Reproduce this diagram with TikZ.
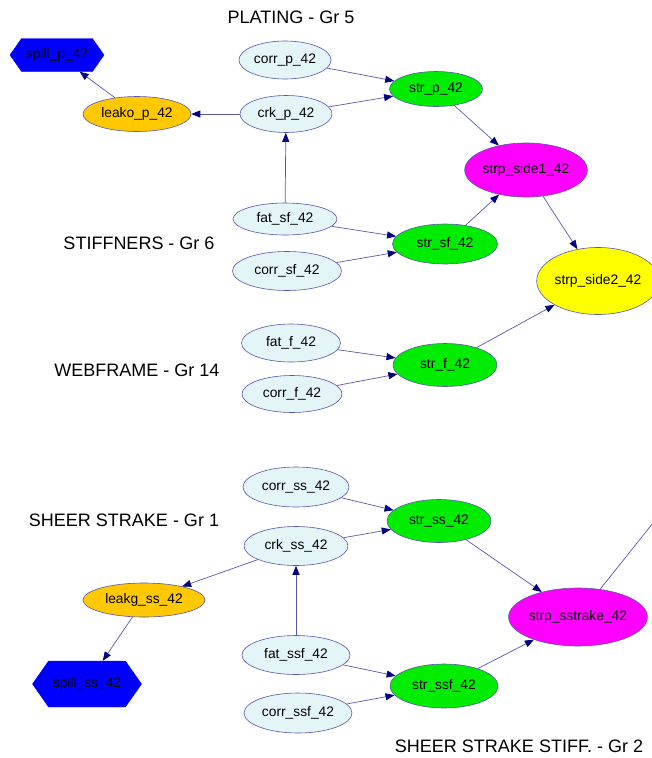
\documentclass[tikz,border=0pt]{standalone}
\usepackage{fontspec}
\setmainfont{Liberation Sans}
\usetikzlibrary{shapes.geometric, shapes.symbols, arrows.meta}

\definecolor{edgeblue}{RGB}{88,88,168}
\definecolor{tipblue}{RGB}{0,0,128}
\definecolor{paleblue}{RGB}{228,245,247}
\definecolor{strgreen}{RGB}{0,236,0}
\definecolor{leakorange}{RGB}{255,200,0}
\definecolor{sidemagenta}{RGB}{255,0,255}
\definecolor{sideyellow}{RGB}{255,255,0}
\definecolor{spillblue}{RGB}{0,0,255}

\tikzset{
  base/.style={ellipse, draw=edgeblue, line width=0.6pt, inner sep=0pt,
    font=\fontsize{13.8}{16}\selectfont},
  cause/.style={base, fill=paleblue},
  strnode/.style={base, fill=strgreen},
  leaknode/.style={base, fill=leakorange},
  sidenode/.style={base, fill=sidemagenta},
  topnode/.style={base, fill=sideyellow},
  spillbox/.style={signal, signal to=west and east, signal pointer angle=110,
    fill=spillblue, draw=spillblue, inner sep=0pt, font=\fontsize{13.8}{16}\selectfont},
  grouplabel/.style={font=\fontsize{18}{21}\selectfont},
  flow/.style={draw=edgeblue, line width=0.7pt,
    -{Triangle[length=9pt,width=7pt,color=tipblue]}}
}

\begin{document}
\begin{tikzpicture}[x=1pt, y=-1pt]
  \useasboundingbox (0,0) rectangle (652,758);
  \clip (0,0) rectangle (652,758);

  % Group labels
  \node[grouplabel] (lplating) at (291,17) {PLATING - Gr 5};
  \node[grouplabel] (lstiff) at (139,243) {STIFFNERS - Gr 6};
  \node[grouplabel] (lweb) at (137,370) {WEBFRAME - Gr 14};
  \node[grouplabel] (lsheer) at (124,520) {SHEER STRAKE - Gr 1};
  \node[grouplabel] (lsheerstiff) at (519,746) {SHEER STRAKE STIFF. - Gr 2};

  % Plating
  \node[spillbox, minimum width=94pt, minimum height=33pt] (spillp) at (57,55) {spill\_p\_42};
  \node[leaknode, minimum width=108pt, minimum height=35pt] (leakop) at (137,114) {leako\_p\_42};
  \node[cause, minimum width=92pt, minimum height=38pt] (corrp) at (285,60) {corr\_p\_42};
  \node[cause, minimum width=92pt, minimum height=37pt] (crkp) at (286,114) {crk\_p\_42};
  \node[strnode, minimum width=93pt, minimum height=35pt] (strp) at (436,89) {str\_p\_42};

  % Stiffners
  \node[cause, minimum width=104pt, minimum height=32pt] (fatsf) at (285,219) {fat\_sf\_42};
  \node[cause, minimum width=109pt, minimum height=39pt] (corrsf) at (287,271) {corr\_sf\_42};
  \node[strnode, minimum width=105pt, minimum height=40pt] (strsf) at (445,244) {str\_sf\_42};

  % Webframe
  \node[cause, minimum width=99pt, minimum height=38pt] (fatf) at (291,343) {fat\_f\_42};
  \node[cause, minimum width=100pt, minimum height=37pt] (corrf) at (292,394) {corr\_f\_42};
  \node[strnode, minimum width=104pt, minimum height=43pt] (strf) at (445,365) {str\_f\_42};

  % Side strength
  \node[sidenode, minimum width=114pt, minimum height=54pt] (side1) at (526,170) {strp\_side1\_42};
  \node[topnode, minimum width=120pt, minimum height=67pt] (side2) at (598,281) {strp\_side2\_42};

  % Sheer strake
  \node[cause, minimum width=106pt, minimum height=40pt] (corrss) at (296,487) {corr\_ss\_42};
  \node[cause, minimum width=104pt, minimum height=39pt] (crkss) at (296,546) {crk\_ss\_42};
  \node[leaknode, minimum width=122pt, minimum height=34pt] (leakgss) at (144,600) {leakg\_ss\_42};
  \node[spillbox, minimum width=109pt, minimum height=46pt] (spillss) at (87,684) {spill\_ss\_42};
  \node[strnode, minimum width=104pt, minimum height=43pt] (strss) at (439,521) {str\_ss\_42};

  % Sheer strake stiff.
  \node[cause, minimum width=108pt, minimum height=39pt] (fatssf) at (296,655) {fat\_ssf\_42};
  \node[cause, minimum width=108pt, minimum height=40pt] (corrssf) at (298,713) {corr\_ssf\_42};
  \node[strnode, minimum width=108pt, minimum height=44pt] (strssf) at (444,686) {str\_ssf\_42};
  \node[sidenode, minimum width=130pt, minimum height=58pt] (sstrake) at (578,617) {strp\_sstrake\_42};

  \coordinate (offpage) at (700,464);

  % Connectors
  \draw[flow] (leakop) -- (spillp);
  \draw[flow] (crkp) -- (leakop);
  \draw[flow] (corrp) -- (strp);
  \draw[flow] (crkp) -- (strp);
  \draw[flow] (fatsf) -- (crkp);
  \draw[flow] (fatsf) -- (strsf);
  \draw[flow] (corrsf) -- (strsf);
  \draw[flow] (strp) -- (side1);
  \draw[flow] (strsf) -- (side1);
  \draw[flow] (side1) -- (side2);
  \draw[flow] (fatf) -- (strf);
  \draw[flow] (corrf) -- (strf);
  \draw[flow] (strf) -- (side2);

  \draw[flow] (corrss) -- (strss);
  \draw[flow] (crkss) -- (strss);
  \draw[flow] (crkss) -- (leakgss);
  \draw[flow] (leakgss) -- (spillss);
  \draw[flow] (fatssf) -- (crkss);
  \draw[flow] (fatssf) -- (strssf);
  \draw[flow] (corrssf) -- (strssf);
  \draw[flow] (strss) -- (sstrake);
  \draw[flow] (strssf) -- (sstrake);
  \draw[flow] (sstrake) -- (offpage);
\end{tikzpicture}
\end{document}
